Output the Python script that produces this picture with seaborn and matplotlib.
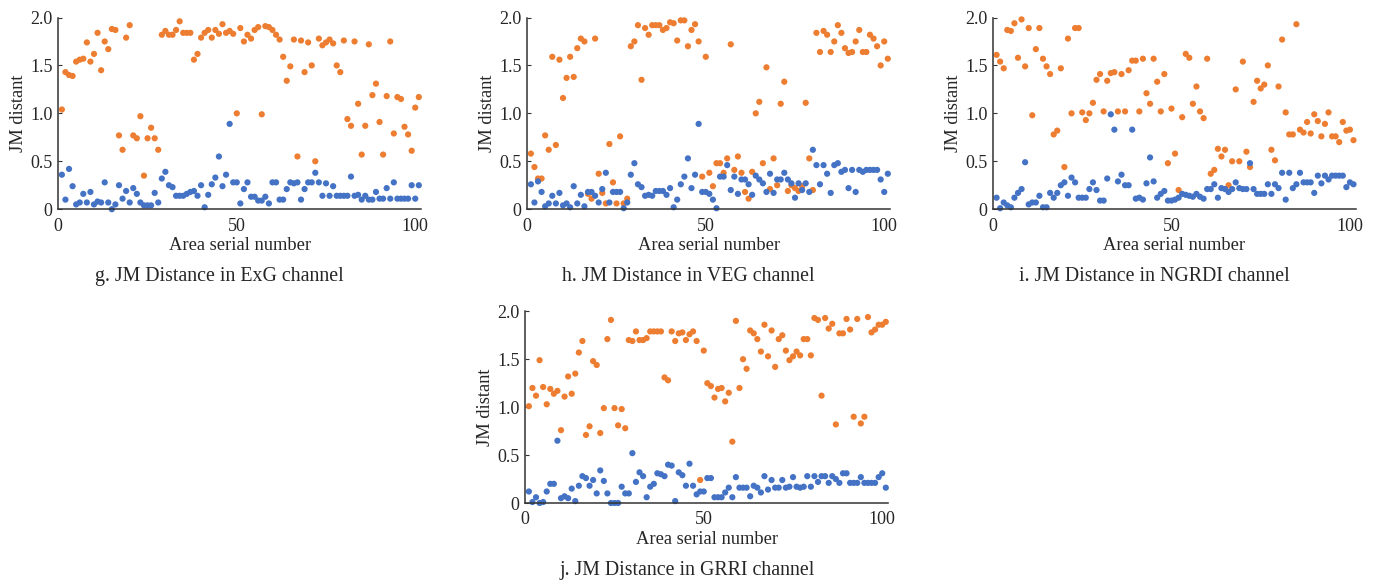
import numpy as np
import pandas as pd
import matplotlib
matplotlib.use("Agg")
import matplotlib.pyplot as plt
import seaborn as sns

# JM distance per area, two series per channel (orange / blue in the figure)
exg_s1 = [1.04, 1.43, 1.40, 1.39, 1.54, 1.56, 1.57, 1.74, 1.54, 1.62, 1.84, 1.45, 1.75, 1.67, 1.88, 1.87, 0.77,
          0.62, 1.79, 1.92, 0.77, 0.74, 0.97, 0.35, 0.74, 0.85, 0.74, 0.62, 1.82, 1.86, 1.82, 1.82, 1.87, 1.96,
          1.84, 1.84, 1.84, 1.56, 1.62, 1.79, 1.84, 1.87, 1.79, 1.87, 1.83, 1.93, 1.84, 1.86, 1.83, 1.00, 1.89,
          1.75, 1.82, 1.78, 1.87, 1.90, 0.99, 1.91, 1.90, 1.87, 1.82, 1.77, 1.59, 1.34, 1.49, 1.77, 0.55, 1.76,
          1.43, 1.74, 1.50, 0.50, 1.78, 1.71, 1.74, 1.77, 1.73, 1.50, 1.43, 1.76, 0.94, 0.87, 1.75, 1.10, 0.57,
          0.87, 1.72, 1.19, 1.31, 0.91, 0.57, 1.18, 1.75, 0.79, 1.17, 1.15, 0.86, 0.78, 0.61, 1.06, 1.17]
exg_s2 = [0.36, 0.10, 0.42, 0.24, 0.05, 0.07, 0.16, 0.07, 0.18, 0.05, 0.08, 0.07, 0.28, 0.07, 0.00, 0.05, 0.25,
          0.11, 0.19, 0.07, 0.22, 0.16, 0.07, 0.04, 0.04, 0.04, 0.17, 0.07, 0.32, 0.39, 0.25, 0.23, 0.14, 0.14,
          0.14, 0.16, 0.18, 0.19, 0.14, 0.25, 0.02, 0.15, 0.26, 0.33, 0.55, 0.24, 0.36, 0.89, 0.28, 0.28, 0.06,
          0.21, 0.28, 0.13, 0.13, 0.09, 0.09, 0.13, 0.06, 0.28, 0.28, 0.10, 0.10, 0.21, 0.28, 0.27, 0.28, 0.10,
          0.21, 0.28, 0.28, 0.38, 0.28, 0.14, 0.27, 0.14, 0.24, 0.14, 0.14, 0.14, 0.14, 0.34, 0.14, 0.15, 0.10,
          0.14, 0.10, 0.10, 0.18, 0.11, 0.11, 0.22, 0.11, 0.28, 0.11, 0.11, 0.11, 0.11, 0.25, 0.11, 0.25]

veg_s1 = [0.58, 0.44, 0.32, 0.32, 0.77, 0.62, 1.59, 0.67, 1.56, 1.16, 1.37, 1.59, 1.38, 1.68, 1.78, 1.75, 0.16,
          0.11, 1.78, 0.37, 0.17, 0.06, 0.68, 0.28, 0.06, 0.76, 0.06, 0.11, 1.70, 1.75, 1.92, 1.35, 1.89, 1.82,
          1.92, 1.92, 1.92, 1.87, 1.89, 1.95, 1.94, 1.76, 1.97, 1.97, 1.70, 1.87, 1.93, 1.75, 0.34, 1.59, 0.38,
          0.24, 0.48, 0.48, 0.38, 0.53, 1.72, 0.41, 0.55, 0.38, 0.18, 0.11, 0.39, 1.00, 1.12, 0.48, 1.48, 0.21,
          0.53, 0.25, 1.10, 1.33, 0.19, 0.25, 0.22, 0.19, 0.24, 1.11, 0.53, 0.20, 1.84, 1.64, 1.86, 1.82, 1.64,
          1.75, 1.92, 1.84, 1.68, 1.63, 1.64, 1.75, 1.87, 1.64, 1.64, 1.82, 1.78, 1.70, 1.50, 1.75, 1.57]
veg_s2 = [0.26, 0.07, 0.29, 0.18, 0.03, 0.06, 0.14, 0.06, 0.17, 0.04, 0.06, 0.02, 0.24, 0.06, 0.15, 0.03, 0.18,
          0.18, 0.14, 0.07, 0.21, 0.38, 0.07, 0.18, 0.18, 0.18, 0.01, 0.07, 0.36, 0.48, 0.26, 0.23, 0.14, 0.15,
          0.14, 0.19, 0.19, 0.19, 0.15, 0.22, 0.02, 0.10, 0.26, 0.34, 0.53, 0.22, 0.36, 0.89, 0.18, 0.18, 0.16,
          0.10, 0.01, 0.34, 0.34, 0.46, 0.20, 0.34, 0.16, 0.31, 0.31, 0.26, 0.15, 0.35, 0.31, 0.27, 0.18, 0.37,
          0.17, 0.31, 0.31, 0.38, 0.31, 0.27, 0.12, 0.27, 0.20, 0.27, 0.18, 0.62, 0.46, 0.26, 0.46, 0.37, 0.17,
          0.46, 0.48, 0.39, 0.41, 0.22, 0.41, 0.18, 0.41, 0.39, 0.41, 0.41, 0.41, 0.41, 0.31, 0.18, 0.37]

ngrdi_s1 = [1.61, 1.54, 1.47, 1.87, 1.86, 1.94, 1.58, 1.98, 1.49, 1.89, 0.98, 1.67, 1.89, 1.57, 1.49, 1.41, 0.78,
            0.82, 1.47, 0.44, 1.78, 1.00, 1.89, 1.89, 1.01, 0.93, 1.00, 1.11, 1.35, 1.41, 1.02, 1.34, 1.42, 1.43,
            1.02, 1.41, 1.02, 1.45, 1.55, 1.55, 1.02, 1.57, 1.21, 1.10, 1.57, 1.33, 1.02, 1.41, 0.48, 1.05, 0.58,
            0.20, 0.96, 1.62, 1.58, 1.10, 1.28, 1.02, 0.95, 1.57, 0.37, 0.41, 0.63, 0.55, 0.62, 0.25, 0.50, 1.25,
            0.50, 1.54, 0.60, 0.44, 1.12, 1.34, 1.26, 1.30, 1.50, 0.62, 0.51, 1.28, 1.77, 1.01, 0.78, 0.78, 1.93,
            0.83, 0.80, 0.91, 0.79, 0.99, 0.92, 0.76, 0.89, 1.01, 0.76, 0.76, 0.70, 0.91, 0.82, 0.83, 0.72]
ngrdi_s2 = [0.12, 0.01, 0.07, 0.04, 0.02, 0.12, 0.17, 0.21, 0.49, 0.05, 0.07, 0.07, 0.14, 0.02, 0.02, 0.17, 0.12,
            0.17, 0.25, 0.28, 0.14, 0.33, 0.28, 0.12, 0.12, 0.12, 0.21, 0.28, 0.20, 0.09, 0.09, 0.32, 0.99, 0.83,
            0.29, 0.36, 0.25, 0.25, 0.83, 0.11, 0.12, 0.10, 0.27, 0.54, 0.29, 0.12, 0.16, 0.19, 0.09, 0.09, 0.10,
            0.12, 0.16, 0.15, 0.14, 0.13, 0.16, 0.13, 0.11, 0.21, 0.21, 0.26, 0.12, 0.22, 0.21, 0.18, 0.21, 0.28,
            0.22, 0.21, 0.21, 0.48, 0.21, 0.16, 0.16, 0.16, 0.26, 0.16, 0.26, 0.22, 0.38, 0.10, 0.38, 0.22, 0.26,
            0.38, 0.28, 0.28, 0.28, 0.17, 0.35, 0.27, 0.35, 0.31, 0.35, 0.35, 0.35, 0.35, 0.23, 0.28, 0.26]

grri_s1 = [1.01, 1.20, 1.12, 1.49, 1.21, 1.03, 1.19, 1.14, 1.17, 0.76, 1.11, 1.32, 1.14, 1.35, 1.57, 1.69, 0.71,
           0.80, 1.48, 1.44, 0.73, 0.99, 1.71, 1.91, 0.99, 0.81, 0.98, 0.78, 1.70, 1.69, 1.79, 1.70, 1.70, 1.72,
           1.79, 1.79, 1.79, 1.79, 1.31, 1.28, 1.79, 1.69, 1.77, 1.78, 1.70, 1.76, 1.79, 1.69, 0.24, 1.59, 1.25,
           1.22, 1.10, 1.19, 1.20, 1.06, 1.15, 0.64, 1.90, 1.20, 1.50, 1.40, 1.80, 1.77, 1.71, 1.58, 1.86, 1.53,
           1.80, 1.42, 1.71, 1.75, 1.59, 1.49, 1.53, 1.58, 1.54, 1.71, 1.71, 1.54, 1.93, 1.91, 1.12, 1.93, 1.82,
           1.87, 0.82, 1.77, 1.77, 1.92, 1.81, 0.90, 1.92, 0.83, 0.90, 1.94, 1.78, 1.81, 1.86, 1.86, 1.89]
grri_s2 = [0.12, 0.01, 0.06, 0.00, 0.01, 0.12, 0.20, 0.20, 0.65, 0.05, 0.07, 0.05, 0.15, 0.02, 0.18, 0.28, 0.26,
           0.18, 0.24, 0.10, 0.34, 0.23, 0.10, 0.00, 0.00, 0.00, 0.17, 0.10, 0.10, 0.52, 0.22, 0.32, 0.28, 0.06,
           0.17, 0.20, 0.31, 0.30, 0.28, 0.40, 0.39, 0.02, 0.32, 0.29, 0.18, 0.41, 0.18, 0.09, 0.12, 0.12, 0.26,
           0.26, 0.06, 0.06, 0.06, 0.11, 0.16, 0.06, 0.27, 0.16, 0.16, 0.16, 0.07, 0.18, 0.16, 0.11, 0.28, 0.14,
           0.24, 0.16, 0.16, 0.24, 0.16, 0.17, 0.27, 0.17, 0.16, 0.17, 0.28, 0.17, 0.28, 0.22, 0.28, 0.28, 0.21,
           0.28, 0.25, 0.21, 0.31, 0.31, 0.21, 0.21, 0.21, 0.27, 0.21, 0.21, 0.21, 0.21, 0.27, 0.31, 0.16]

captions = ["g. JM Distance in ExG channel", "h. JM Distance in VEG channel",
            "i. JM Distance in NGRDI channel", "j. JM Distance in GRRI channel"]
y_ticks = [0, 0.5, 1.0, 1.5, 2.0]
y_ticklabels = ["0", "0.5", "1.0", "1.5", "2.0"]
x_ticks = [0, 50, 100]

PALETTE = {"s1": "#ED7D31", "s2": "#4472C4"}
W, H = 1379, 584

sns.set_theme(style="white")
plt.rcParams["font.family"] = ["Liberation Serif", "DejaVu Serif"]

fig = plt.figure(figsize=(W / 100, H / 100), dpi=100)

# axes boxes in pixels: left, top (y=2.0), width, height
boxes = [(58.3, 17.5, 363, 191.7), (527.3, 17.5, 363, 191.7),
         (993.0, 17.5, 363, 191.7), (525.3, 311.3, 363, 191.7)]
panels = [(exg_s1, exg_s2), (veg_s1, veg_s2), (ngrdi_s1, ngrdi_s2), (grri_s1, grri_s2)]

for (l, t, w, h), (s1, s2), cap in zip(boxes, panels, captions):
    ax = fig.add_axes([l / W, 1 - (t + h) / H, w / W, h / H])
    df = pd.concat([
        pd.DataFrame({"area": np.arange(1, len(s1) + 1), "jm": s1, "series": "s1"}),
        pd.DataFrame({"area": np.arange(1, len(s2) + 1), "jm": s2, "series": "s2"}),
    ])
    sns.scatterplot(data=df, x="area", y="jm", hue="series", palette=PALETTE,
                    s=20, linewidth=0, legend=False, ax=ax, clip_on=False)
    ax.set_xlim(0, 101.7)
    ax.set_ylim(0, 2.0)
    ax.set_xticks(x_ticks)
    ax.set_yticks(y_ticks)
    ax.set_yticklabels(y_ticklabels)
    sns.despine(ax=ax)
    for sp in ["left", "bottom"]:
        ax.spines[sp].set_color("#333333")
        ax.spines[sp].set_linewidth(1.1)
    ax.tick_params(axis="y", direction="in", length=3, width=0.8, color="#333333",
                   labelsize=13, pad=4, left=True)
    ax.tick_params(axis="x", length=0, labelsize=13, pad=6)
    ax.set_xlabel("Area serial number", fontsize=13.3, labelpad=2)
    ax.set_ylabel("JM distant", fontsize=13.3, labelpad=2)
    fig.text((l + w / 2 - 20) / W, 1 - (t + h + 67) / H, cap, ha="center", va="center",
             fontsize=14.3)

fig.savefig("out.png", dpi=100)
